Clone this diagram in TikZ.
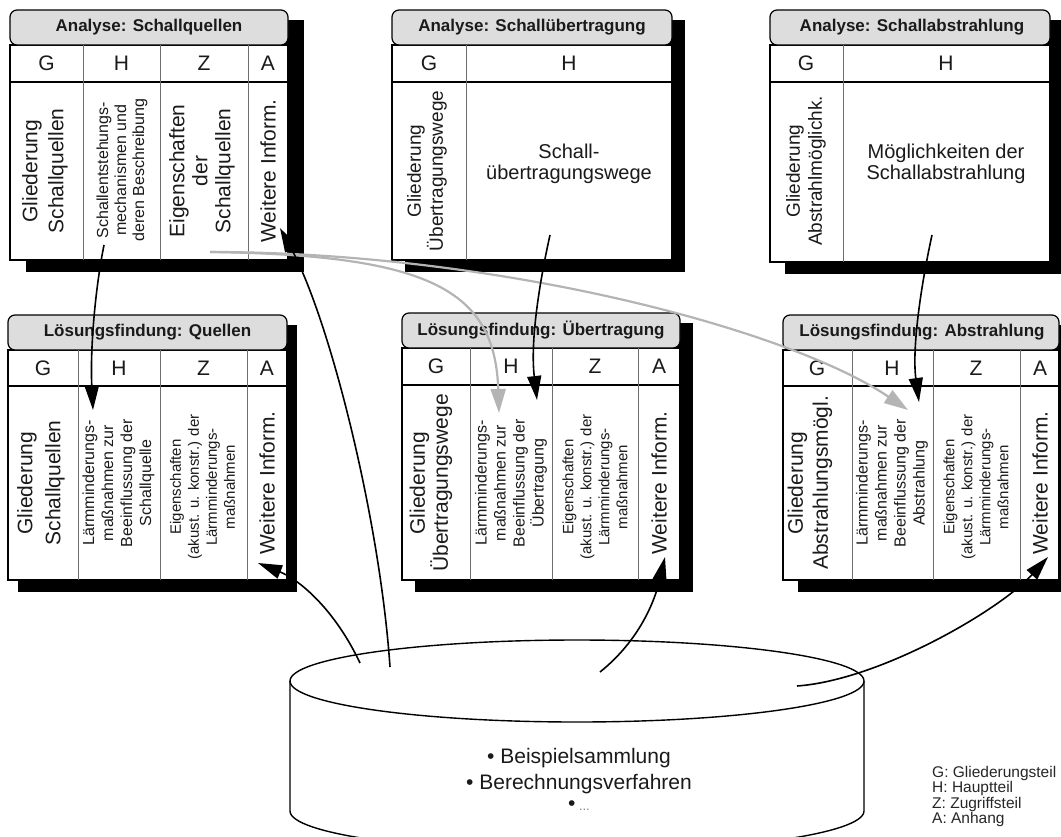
\documentclass[tikz,border=0pt]{standalone}
\usepackage{fontspec}
\setmainfont{Liberation Sans}
\usetikzlibrary{arrows.meta}
\definecolor{titlegray}{HTML}{DDDDDD}
\definecolor{arrowgray}{HTML}{B4B4B4}
\definecolor{divgray}{HTML}{6E6E6E}
\definecolor{txt}{HTML}{1A1A1A}
% #1 x0, #2 x1, #3 title top, #4 title bottom, #5 header line, #6 bottom, #7 shadow dx
\newcommand{\drawpanel}[7]{%
  \fill[black] (#1+#7,#3+10) rectangle (#2+#7,#6+12);
  \draw[tableframe] (#1,#4) rectangle (#2,#6);
  \draw[titlebox] (#1,#3) rectangle (#2,#4);
  \draw[hline] (#1,#5) -- (#2,#5);
}
\begin{document}
\begin{tikzpicture}[x=1pt,y=-1pt,
  titlebox/.style={draw=black,fill=titlegray,rounded corners=7pt,line width=1.2pt},
  tableframe/.style={draw=black,fill=white,line width=1.2pt},
  divider/.style={draw=divgray,line width=1pt},
  hline/.style={draw=black,line width=1.5pt},
  ttl/.style={font=\bfseries\fontsize{17}{20}\selectfont,text=txt,inner sep=0pt},
  hdr/.style={font=\fontsize{21}{24}\selectfont,text=txt,inner sep=0pt},
  bigv/.style={rotate=90,align=center,font=\fontsize{21}{26}\selectfont,text=txt,inner sep=0pt},
  midv/.style={rotate=90,align=center,font=\fontsize{19}{22}\selectfont,text=txt,inner sep=0pt},
  smallv/.style={rotate=90,align=center,font=\fontsize{16}{19}\selectfont,text=txt,inner sep=0pt},
  tinyv/.style={rotate=90,align=center,font=\fontsize{15}{18}\selectfont,text=txt,inner sep=0pt},
  horiz/.style={align=center,font=\fontsize{20}{21}\selectfont,text=txt,inner sep=0pt},
  conn/.style={draw=black,line width=1.6pt,-{Triangle[length=24pt,width=14pt]}},
  gconn/.style={draw=arrowgray,line width=2.2pt,-{Triangle[length=24pt,width=15pt]}},
]
\useasboundingbox (0,0) rectangle (1061,836);
\clip (0,0) rectangle (1061,836);

% ---------- Box 1: Analyse: Schallquellen
\drawpanel{10}{288}{10}{45}{82}{260}{16}
\draw[divider] (83,45) -- (83,260);
\draw[divider] (160,45) -- (160,260);
\draw[divider] (248,45) -- (248,260);
\node[ttl] (t1) at (149,27.5) {Analyse: Schallquellen};
\node[hdr] (h1g) at (46.5,63.5) {G};
\node[hdr] (h1h) at (121.5,63.5) {H};
\node[hdr] (h1z) at (204,63.5) {Z};
\node[hdr] (h1a) at (268,63.5) {A};
\node[bigv] (b1g) at (45,171) {Gliederung\\Schallquellen};
\node[smallv,font=\fontsize{16}{18}\selectfont] (b1h) at (122,170) {Schallentstehungs-\\mechanismen und\\deren Beschreibung};
\node[bigv,font=\fontsize{21}{23}\selectfont] (b1z) at (202,171) {Eigenschaften\\der\\Schallquellen};
\node[bigv] (b1a) at (268,171) {Weitere Inform.};

% ---------- Box 2: Analyse: Schallübertragung
\drawpanel{392}{672}{10}{45}{82}{260}{13}
\draw[divider] (466,45) -- (466,260);
\node[ttl] (t2) at (532,27.5) {Analyse: Schallübertragung};
\node[hdr] (h2g) at (429,63.5) {G};
\node[hdr] (h2h) at (569,63.5) {H};
\node[midv] (b2g) at (427,171) {Gliederung\\Übertragungswege};
\node[horiz] (b2h) at (569,164) {Schall-\\übertragungswege};

% ---------- Box 3: Analyse: Schallabstrahlung
\drawpanel{770}{1050}{10}{45}{82}{262}{15}
\draw[divider] (843,45) -- (843,262);
\node[ttl] (t3) at (912,27.5) {Analyse: Schallabstrahlung};
\node[hdr] (h3g) at (806,63.5) {G};
\node[hdr] (h3h) at (946,63.5) {H};
\node[midv] (b3g) at (806,171) {Gliederung\\Abstrahlmöglichk.};
\node[horiz] (b3h) at (946,164) {Möglichkeiten der\\Schallabstrahlung};

% ---------- Box 4: Lösungsfindung: Quellen
\drawpanel{8}{287}{315}{350}{386}{580}{10}
\draw[divider] (78,350) -- (78,580);
\draw[divider] (160,350) -- (160,580);
\draw[divider] (247,350) -- (247,580);
\node[ttl] (t4) at (147.5,332.5) {Lösungsfindung: Quellen};
\node[hdr] (h4g) at (43,368) {G};
\node[hdr] (h4h) at (119,368) {H};
\node[hdr] (h4z) at (203.5,368) {Z};
\node[hdr] (h4a) at (267,368) {A};
\node[bigv,font=\fontsize{21}{28}\selectfont] (b4g) at (41,483) {Gliederung\\Schallquellen};
\node[smallv] (b4h) at (118.5,483) {Lärmminderungs-\\maßnahmen zur\\Beeinflussung der\\Schallquelle};
\node[tinyv] (b4z) at (202.5,487) {Eigenschaften\\(akust. u. konstr.) der\\Lärmminderungs-\\maßnahmen};
\node[bigv] (b4a) at (267,483) {Weitere Inform.};

% ---------- Box 5: Lösungsfindung: Übertragung
\drawpanel{402}{680}{313}{348}{385}{580}{13}
\draw[divider] (470,348) -- (470,580);
\draw[divider] (552,348) -- (552,580);
\draw[divider] (638,348) -- (638,580);
\node[ttl] (t5) at (541,330.5) {Lösungsfindung: Übertragung};
\node[hdr] (h5g) at (436,366.5) {G};
\node[hdr] (h5h) at (511,366.5) {H};
\node[hdr] (h5z) at (595,366.5) {Z};
\node[hdr] (h5a) at (659,366.5) {A};
\node[bigv,font=\fontsize{21}{23}\selectfont] (b5g) at (431,483) {Gliederung\\Übertragungswege};
\node[smallv] (b5h) at (511,483) {Lärmminderungs-\\maßnahmen zur\\Beeinflussung der\\Übertragung};
\node[tinyv] (b5z) at (595,487) {Eigenschaften\\(akust. u. konstr.) der\\Lärmminderungs-\\maßnahmen};
\node[bigv] (b5a) at (659,483) {Weitere Inform.};

% ---------- Box 6: Lösungsfindung: Abstrahlung
\drawpanel{783}{1059}{315}{350}{386}{580}{15}
\draw[divider] (852,350) -- (852,580);
\draw[divider] (933,350) -- (933,580);
\draw[divider] (1020,350) -- (1020,580);
\node[ttl] (t6) at (922,332.5) {Lösungsfindung: Abstrahlung};
\node[hdr] (h6g) at (817,368) {G};
\node[hdr] (h6h) at (892,368) {H};
\node[hdr] (h6z) at (976,368) {Z};
\node[hdr] (h6a) at (1040,368) {A};
\node[bigv,font=\fontsize{21}{25}\selectfont] (b6g) at (810,483) {Gliederung\\Abstrahlungsmögl.};
\node[smallv] (b6h) at (892,483) {Lärmminderungs-\\maßnahmen zur\\Beeinflussung der\\Abstrahlung};
\node[tinyv] (b6z) at (976,487) {Eigenschaften\\(akust. u. konstr.) der\\Lärmminderungs-\\maßnahmen};
\node[bigv] (b6a) at (1040,483) {Weitere Inform.};

% ---------- Database cylinder
\path[draw=black,line width=1.4pt,fill=white]
  (290,681) -- (290,811) .. controls (290,833.6) and (418.5,852) .. (577,852)
  .. controls (735.5,852) and (864,833.6) .. (864,811) -- (864,681);
\draw[line width=1.4pt,fill=white] (577,681) ellipse [x radius=287pt, y radius=41pt];
\node[align=center,font=\fontsize{21}{26}\selectfont,text=txt,inner sep=0pt] (db) at (579,779)
  {• Beispielsammlung\\• Berechnungsverfahren\\[-5pt]•\,{\fontsize{13}{13}\selectfont\color{gray}...}};

% ---------- Legend
\node[anchor=north west,align=left,font=\fontsize{15.5}{15.5}\selectfont,text=black!85,inner sep=0pt]
  (legend) at (932,766) {G: Gliederungsteil\\H: Hauptteil\\Z: Zugriffsteil\\A: Anhang};

% ---------- connector end points
\coordinate (g0) at (210,252);
\coordinate (gA) at (499,413);
\coordinate (gB) at (908,410);
\coordinate (c1s) at (104,245);
\coordinate (c1e) at (93,410);
\coordinate (c2s) at (550,235);
\coordinate (c2e) at (537,400);
\coordinate (c3s) at (932,235);
\coordinate (c3e) at (919,402);
\coordinate (d1s) at (390,667);
\coordinate (d1e) at (280,228);
\coordinate (d2s) at (360,663);
\coordinate (d2e) at (258,563);
\coordinate (d3s) at (600,672);
\coordinate (d3e) at (665,557);
\coordinate (d4s) at (797,686);
\coordinate (d4e) at (1048,557);

% gray connectors
\draw[gconn] (g0) .. controls (430,255) and (495,290) .. (gA);
\draw[gconn] (g0) .. controls (500,252) and (790,330) .. (gB);

% black connectors
\draw[conn] (c1s) .. controls (95,290) and (90,350) .. (c1e);
\draw[conn] (c2s) .. controls (540,280) and (530,340) .. (c2e);
\draw[conn] (c3s) .. controls (920,290) and (912,350) .. (c3e);
\draw[conn] (d1s) .. controls (380,520) and (330,320) .. (d1e);
\draw[conn] (d2s) .. controls (335,610) and (300,580) .. (d2e);
\draw[conn] (d3s) .. controls (640,640) and (655,600) .. (d3e);
\draw[conn] (d4s) .. controls (880,680) and (1000,610) .. (d4e);
\end{tikzpicture}
\end{document}
